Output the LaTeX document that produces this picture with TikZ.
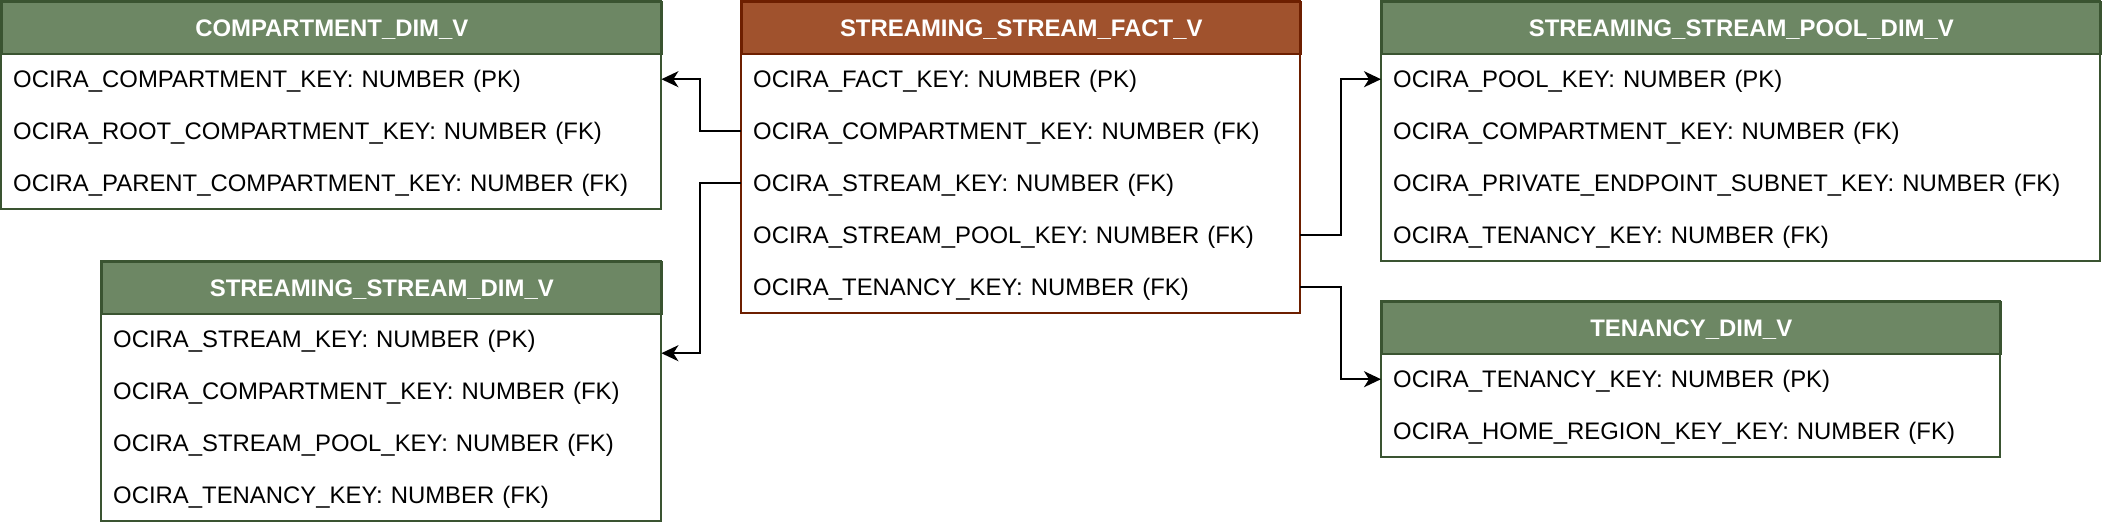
\documentclass[tikz,border=0pt]{standalone}
\usepackage{fontspec}
\setmainfont{Liberation Sans}
\usetikzlibrary{arrows.meta}
\definecolor{gfill}{HTML}{6D8764}
\definecolor{gdraw}{HTML}{3A5431}
\definecolor{bfill}{HTML}{A0522D}
\definecolor{bdraw}{HTML}{6D1F00}
\tikzset{
  hdr/.style={anchor=north west, inner sep=0pt, minimum height=52pt, line width=1.6pt,
    text=white, font=\fontsize{23.9}{28}\selectfont\bfseries, text height=17pt, text depth=0pt},
  rowbox/.style={anchor=north west, inner xsep=12pt, inner ysep=0pt, minimum height=52pt,
    align=left, font=\fontsize{23.9}{28}\selectfont, text height=21.3pt, text depth=5pt},
  outline/.style={line width=1.6pt},
  conn/.style={line width=2pt, black, -{Stealth[length=17pt,width=16pt,inset=5pt]}}
}
\newcommand{\erbox}[9]{%
  \node[hdr, fill=#6, draw=#7, minimum width=#4pt] (#1-h) at (#2,#3) {#8};
  \foreach \t [count=\i] in {#9} {
    \node[rowbox, text width=\dimexpr #4pt-24pt\relax] (#1-\i) at (#2,#3+52*\i) {\t};
  }
  \draw[outline, draw=#7] (#2,#3) rectangle (#2+#4,#3+52+52*#5);
}
\begin{document}
\begin{tikzpicture}[x=1pt,y=-1pt]
\useasboundingbox (0,0) rectangle (2102,528);
\erbox{comp}{1}{1}{660}{3}{gfill}{gdraw}{COMPARTMENT\_DIM\_V}{%
  OCIRA\_COMPARTMENT\_KEY: NUMBER (PK),
  OCIRA\_ROOT\_COMPARTMENT\_KEY: NUMBER (FK),
  OCIRA\_PARENT\_COMPARTMENT\_KEY: NUMBER (FK)}
\erbox{fact}{741}{1}{559}{5}{bfill}{bdraw}{STREAMING\_STREAM\_FACT\_V}{%
  OCIRA\_FACT\_KEY: NUMBER (PK),
  OCIRA\_COMPARTMENT\_KEY: NUMBER (FK),
  OCIRA\_STREAM\_KEY: NUMBER (FK),
  OCIRA\_STREAM\_POOL\_KEY: NUMBER (FK),
  OCIRA\_TENANCY\_KEY: NUMBER (FK)}
\erbox{stream}{101}{261}{560}{4}{gfill}{gdraw}{STREAMING\_STREAM\_DIM\_V}{%
  OCIRA\_STREAM\_KEY: NUMBER (PK),
  OCIRA\_COMPARTMENT\_KEY: NUMBER (FK),
  OCIRA\_STREAM\_POOL\_KEY: NUMBER (FK),
  OCIRA\_TENANCY\_KEY: NUMBER (FK)}
\erbox{pool}{1381}{1}{719}{4}{gfill}{gdraw}{STREAMING\_STREAM\_POOL\_DIM\_V}{%
  OCIRA\_POOL\_KEY: NUMBER (PK),
  OCIRA\_COMPARTMENT\_KEY: NUMBER (FK),
  OCIRA\_PRIVATE\_ENDPOINT\_SUBNET\_KEY: NUMBER (FK),
  OCIRA\_TENANCY\_KEY: NUMBER (FK)}
\erbox{ten}{1381}{301}{619}{2}{gfill}{gdraw}{TENANCY\_DIM\_V}{%
  OCIRA\_TENANCY\_KEY: NUMBER (PK),
  OCIRA\_HOME\_REGION\_KEY\_KEY: NUMBER (FK)}
\draw[conn] (fact-2.west) -- ++(-41,0) |- (comp-1.east);
\draw[conn] (fact-3.west) -- ++(-41,0) |- ([yshift=-14pt]stream-1.east);
\draw[conn] (fact-4.east) -- ++(41,0) |- (pool-1.west);
\draw[conn] (fact-5.east) -- ++(41,0) |- (ten-1.west);
\end{tikzpicture}
\end{document}
